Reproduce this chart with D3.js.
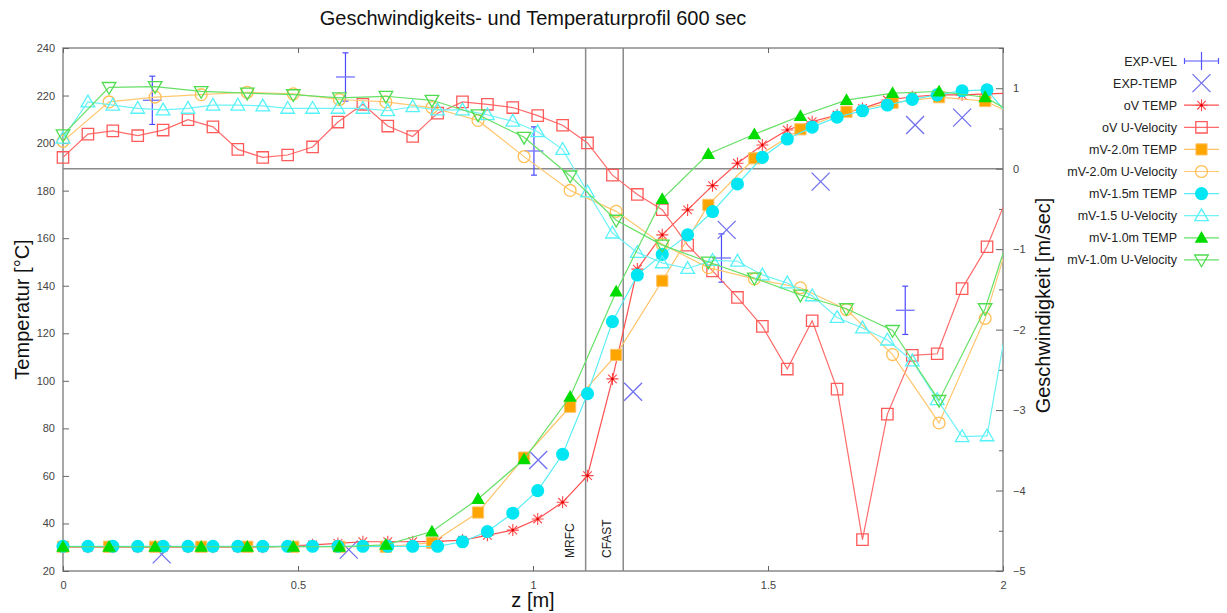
<!DOCTYPE html>
<html><head><meta charset="utf-8">
<script src="https://cdn.jsdelivr.net/npm/d3@7/dist/d3.min.js"></script>
<style>
html,body{margin:0;padding:0;background:#fff;}
svg text{font-family:"Liberation Sans",Arial,sans-serif;}
</style></head>
<body><svg id="chart" width="1227" height="613"></svg>
<script>
// ---------- DATA ----------
const title = "Geschwindigkeits- und Temperaturprofil 600 sec";
const xTicks = [0, 0.5, 1, 1.5, 2];
const xTickLabels = ["0", "0.5", "1", "1.5", "2"];
const tempTicks = [20,40,60,80,100,120,140,160,180,200,220,240];
const velTicks = [1,0,-1,-2,-3,-4,-5];
const velMinorTicks = [1.5,0.5,-0.5,-1.5,-2.5,-3.5,-4.5];
const markerLines = [{z:1.112, label:"MRFC"}, {z:1.192, label:"CFAST"}];

// fine grid (oV and mV-1.5 series)
const zFine = [0,0.053,0.106,0.159,0.213,0.266,0.319,0.372,0.425,0.478,0.531,0.585,0.638,0.691,0.744,0.797,0.850,0.903,0.957,1.010,1.063,1.116,1.169,1.222,1.275,1.329,1.382,1.435,1.488,1.541,1.594,1.647,1.701,1.754,1.807,1.860,1.913,1.966,2.019];
// coarse grid (mV-2.0 and mV-1.0 series)
const zCoarse = [0,0.098,0.196,0.294,0.392,0.490,0.588,0.687,0.785,0.883,0.981,1.079,1.177,1.275,1.373,1.471,1.569,1.667,1.765,1.864,1.962,2.060];

const oVTemp = [30,30,30,30,30,30,30,30,30,30.5,31,31.6,32.3,32.3,32.3,32.5,33,35,37.2,41.9,48.9,60.1,100.8,147,161.4,171.9,182.1,191.5,199.2,205.5,209,211.8,214.6,218.1,219.5,220.3,220.3,220.7,221];
const oVVel = [0.14,0.43,0.47,0.41,0.48,0.61,0.52,0.24,0.14,0.17,0.27,0.58,0.80,0.53,0.40,0.69,0.83,0.80,0.76,0.66,0.54,0.32,-0.08,-0.32,-0.51,-0.95,-1.27,-1.60,-1.96,-2.49,-1.89,-2.74,-4.61,-3.05,-2.32,-2.30,-1.49,-0.97,-0.21];
const mv15Temp = [30.4,30.4,30.4,30.4,30.4,30.4,30.4,30.4,30.4,30.4,30.4,30.4,30.4,30.4,30.4,30.4,32.3,36.6,44.3,53.8,69.1,94.6,124.9,144.5,153.2,161.4,171.2,182.8,194,201.7,206.7,210.9,213.6,216,218.4,220.3,222,222.4,210];
const mv15Vel = [0.38,0.83,0.79,0.75,0.73,0.75,0.79,0.79,0.78,0.75,0.75,0.75,0.75,0.72,0.77,0.73,0.73,0.67,0.59,0.46,0.24,-0.29,-0.80,-1.04,-1.17,-1.24,-1.14,-1.15,-1.32,-1.42,-1.58,-1.85,-1.98,-2.13,-2.39,-2.87,-3.33,-3.32,-1.57];
const mv20Temp = [30.2,30.2,30.2,30.2,30.2,30.2,30.2,30.2,31.9,44.6,67.7,89.1,110.9,142.1,174,193.6,205.8,213.2,217,219.3,217.7,208.6];
const mv20Vel = [0.34,0.83,0.89,0.92,0.95,0.93,0.86,0.83,0.76,0.60,0.15,-0.27,-0.53,-0.94,-1.23,-1.37,-1.48,-1.75,-2.31,-3.16,-1.86,0.05];
const mv10Temp = [30.2,30.2,30.2,30.2,30.2,30.2,30.2,31,36.6,50.3,67,93.3,137.5,176.4,195.4,203.7,211.4,218.1,221,221.7,219.3,208.4];
const mv10Vel = [0.42,1.01,1.02,0.96,0.94,0.92,0.88,0.90,0.85,0.67,0.39,-0.09,-0.64,-0.95,-1.16,-1.36,-1.57,-1.74,-2.01,-2.88,-1.74,0.03];

const expVelZ = [0.190,0.601,1.002,1.401,1.792];
const expVel = [0.85,1.14,0.22,-1.11,-1.76];
const expVelErr = [0.3,0.3,0.3,0.3,0.3];
const expVelZErr = [0.02,0.02,0.02,0.02,0.02];
const expTempZ = [0.210,0.608,1.011,1.213,1.412,1.612,1.813,1.913];
const expTemp = [27,29,66.7,95.4,163.5,183.8,207.6,210.7];

// ---------- LAYOUT ----------
const L = 63, R = 1003, T = 48, B = 571;
const svg = d3.select("#chart");
const x = d3.scaleLinear().domain([0,2]).range([L,R]);
const yT = d3.scaleLinear().domain([20,240]).range([B,T]);
const yV = d3.scaleLinear().domain([-5,1.5]).range([B,T]);

svg.append("defs").append("clipPath").attr("id","plotclip")
  .append("rect").attr("x",L).attr("y",T).attr("width",R-L).attr("height",B-T);

const gray = "#8a8a8a";
svg.append("rect").attr("x",L).attr("y",T).attr("width",R-L).attr("height",B-T)
  .attr("fill","none").attr("stroke",gray).attr("stroke-width",1.5);
svg.append("line").attr("x1",L).attr("x2",R).attr("y1",yV(0)).attr("y2",yV(0))
  .attr("stroke",gray).attr("stroke-width",1.5);
markerLines.forEach(m=>{
  svg.append("line").attr("x1",x(m.z)).attr("x2",x(m.z)).attr("y1",T).attr("y2",B)
    .attr("stroke",gray).attr("stroke-width",1.5);
  svg.append("text").attr("transform",`translate(${x(m.z)-12},${B-13}) rotate(-90)`)
    .attr("font-size",12).attr("fill","#222").text(m.label);
});

// axes
const axB = d3.axisBottom(x).tickValues(xTicks).tickFormat((d,i)=>xTickLabels[i]).tickSize(-5).tickPadding(10);
const gB = svg.append("g").attr("transform",`translate(0,${B})`).call(axB);
const axTop = d3.axisTop(x).tickValues(xTicks).tickFormat("").tickSize(-5);
const gTop = svg.append("g").attr("transform",`translate(0,${T})`).call(axTop);
const axL = d3.axisLeft(yT).tickValues(tempTicks).tickSize(-6).tickPadding(8);
const gL = svg.append("g").attr("transform",`translate(${L},0)`).call(axL);
const axR = d3.axisRight(yV).tickValues(velTicks).tickFormat(d3.format("d")).tickSize(-7).tickPadding(10);
const gR = svg.append("g").attr("transform",`translate(${R},0)`).call(axR);
const axRm = d3.axisRight(yV).tickValues(velMinorTicks).tickFormat("").tickSize(-4);
const gRm = svg.append("g").attr("transform",`translate(${R},0)`).call(axRm);
[gB,gTop,gL,gR,gRm].forEach(g=>{
  g.select(".domain").remove();
  g.selectAll(".tick line").attr("stroke","#666").attr("stroke-width",1);
  g.selectAll(".tick text").attr("font-size",11).attr("fill","#444")
    .attr("font-family","'Liberation Sans',Arial,sans-serif");
});

// titles
svg.append("text").attr("x",(L+R)/2).attr("y",25).attr("text-anchor","middle")
  .attr("font-size",20).attr("fill","#111").text(title);
svg.append("text").attr("x",(L+R)/2).attr("y",607).attr("text-anchor","middle")
  .attr("font-size",20).attr("fill","#111").text("z [m]");
svg.append("text").attr("transform",`translate(29,${(T+B)/2}) rotate(-90)`).attr("text-anchor","middle")
  .attr("font-size",20).attr("fill","#111").text("Temperatur [°C]");
svg.append("text").attr("transform",`translate(1050,${(T+B)/2 - 4}) rotate(-90)`).attr("text-anchor","middle")
  .attr("font-size",20).attr("fill","#111").text("Geschwindigkeit [m/sec]");

// ---------- MARKERS ----------
const sym = {
  square: d3.symbol().type(d3.symbolSquare).size(130)(),
  smallSquare: d3.symbol().type(d3.symbolSquare).size(125)(),
  circle: d3.symbol().type(d3.symbolCircle).size(110)(),
  fcircle: d3.symbol().type(d3.symbolCircle).size(135)(),
  tri: d3.symbol().type(d3.symbolTriangle).size(80)(),
  asterisk: "M-6,0H6M0,-6V6M-4.3,-4.3L4.3,4.3M-4.3,4.3L4.3,-4.3",
  cross: "M-9,-9L9,9M-9,9L9,-9"
};
function drawMarker(g, type, col, cx, cy){
  const t = `translate(${cx},${cy})`;
  switch(type){
    case "asterisk": g.append("path").attr("d",sym.asterisk).attr("transform",t).attr("stroke",col).attr("stroke-width",1.1).attr("fill","none");
      g.append("circle").attr("cx",cx).attr("cy",cy).attr("r",1.3).attr("fill","#e00000"); break;
    case "osquare": g.append("path").attr("d",sym.square).attr("transform",t).attr("stroke",col).attr("stroke-width",1.3).attr("fill","none"); break;
    case "fsquare": g.append("path").attr("d",sym.smallSquare).attr("transform",t).attr("fill",col).attr("stroke","#ffc266").attr("stroke-width",1); break;
    case "ocircle": g.append("path").attr("d",sym.circle).attr("transform",t).attr("stroke",col).attr("stroke-width",1.3).attr("fill","none"); break;
    case "fcircle": g.append("path").attr("d",sym.fcircle).attr("transform",t).attr("fill",col); break;
    case "otri": g.append("path").attr("d",sym.tri).attr("transform",t+" translate(0,1)").attr("stroke",col).attr("stroke-width",1.3).attr("fill","none"); break;
    case "ftri": g.append("path").attr("d",sym.tri).attr("transform",t+" translate(0,1)").attr("fill",col); break;
    case "otriDown": g.append("path").attr("d",sym.tri).attr("transform",t+" rotate(180) translate(0,1)").attr("stroke",col).attr("stroke-width",1.3).attr("fill","none"); break;
    case "cross": g.append("path").attr("d",sym.cross).attr("transform",t).attr("stroke",col).attr("stroke-width",1.3).attr("fill","none"); break;
    case "errplus": {
      g.append("line").attr("x1",cx-17).attr("x2",cx+17).attr("y1",cy).attr("y2",cy).attr("stroke",col).attr("stroke-width",1.2);
      g.append("line").attr("x1",cx-17).attr("x2",cx-17).attr("y1",cy-3).attr("y2",cy+3).attr("stroke",col).attr("stroke-width",1.2);
      g.append("line").attr("x1",cx+17).attr("x2",cx+17).attr("y1",cy-3).attr("y2",cy+3).attr("stroke",col).attr("stroke-width",1.2);
      g.append("line").attr("x1",cx).attr("x2",cx).attr("y1",cy-9).attr("y2",cy+9).attr("stroke",col).attr("stroke-width",1.2);
      break; }
  }
}

const series = [
  {name:"EXP-VEL", type:"errplus", mcol:"#5555ff", lcol:"#5555ff"},
  {name:"EXP-TEMP", type:"cross", mcol:"#7070f0", z:expTempZ, v:expTemp, y:yT, noline:true},
  {name:"oV TEMP", type:"asterisk", mcol:"#ff4848", lcol:"#ff5050", z:zFine, v:oVTemp, y:yT},
  {name:"oV U-Velocity", type:"osquare", mcol:"#ff5a5a", lcol:"#ff6a6a", z:zFine, v:oVVel, y:yV},
  {name:"mV-2.0m TEMP", type:"fsquare", mcol:"#ffa500", lcol:"#ffc266", z:zCoarse, v:mv20Temp, y:yT},
  {name:"mV-2.0m U-Velocity", type:"ocircle", mcol:"#ffbf55", lcol:"#ffc870", z:zCoarse, v:mv20Vel, y:yV},
  {name:"mV-1.5m TEMP", type:"fcircle", mcol:"#00e6f2", lcol:"#55eef5", z:zFine, v:mv15Temp, y:yT},
  {name:"mV-1.5 U-Velocity", type:"otri", mcol:"#55f2f8", lcol:"#6ff2f6", z:zFine, v:mv15Vel, y:yV},
  {name:"mV-1.0m TEMP", type:"ftri", mcol:"#00dc00", lcol:"#66e066", z:zCoarse, v:mv10Temp, y:yT},
  {name:"mV-1.0m U-Velocity", type:"otriDown", mcol:"#4fdc4f", lcol:"#66e066", z:zCoarse, v:mv10Vel, y:yV}
];

const plot = svg.append("g");
const gExpV = plot.append("g");
const evc = "#4a4aff";
expVelZ.forEach((z,i)=>{
  const cx = x(z), cy = yV(expVel[i]);
  const y1 = yV(expVel[i]+expVelErr[i]), y2 = yV(expVel[i]-expVelErr[i]);
  const x1 = x(z-expVelZErr[i]), x2 = x(z+expVelZErr[i]);
  gExpV.append("line").attr("x1",cx).attr("x2",cx).attr("y1",y1).attr("y2",y2).attr("stroke",evc).attr("stroke-width",1.2);
  gExpV.append("line").attr("x1",cx-3).attr("x2",cx+3).attr("y1",y1).attr("y2",y1).attr("stroke",evc).attr("stroke-width",1.2);
  gExpV.append("line").attr("x1",cx-3).attr("x2",cx+3).attr("y1",y2).attr("y2",y2).attr("stroke",evc).attr("stroke-width",1.2);
  gExpV.append("line").attr("x1",x1).attr("x2",x2).attr("y1",cy).attr("y2",cy).attr("stroke","#7a7aff").attr("stroke-width",1.4);
});

series.slice(1).forEach(s=>{
  const g = plot.append("g");
  const pts = s.z.map((z,i)=>[x(z), s.y(s.v[i])]);
  if(!s.noline){
    g.append("path").attr("d",d3.line()(pts)).attr("fill","none")
      .attr("stroke",s.lcol).attr("stroke-width",1.2).attr("clip-path","url(#plotclip)");
  }
  s.z.forEach((z,i)=>{ if(z<=2.0001) drawMarker(g, s.type, s.mcol, x(z), s.y(s.v[i])); });
});

// ---------- LEGEND ----------
const lg = svg.append("g");
series.forEach((s,i)=>{
  const ly = 61 + i*22.1;
  lg.append("text").attr("x",1177).attr("y",ly+4.5).attr("text-anchor","end")
    .attr("font-size",12.5).attr("fill","#222").text(s.name);
  if(s.type!=="errplus" && s.type!=="cross"){
    lg.append("line").attr("x1",1184).attr("x2",1219).attr("y1",ly).attr("y2",ly)
      .attr("stroke",s.lcol).attr("stroke-width",1.2);
  }
  drawMarker(lg, s.type, s.mcol, 1201.5, ly);
});
</script></body></html>
